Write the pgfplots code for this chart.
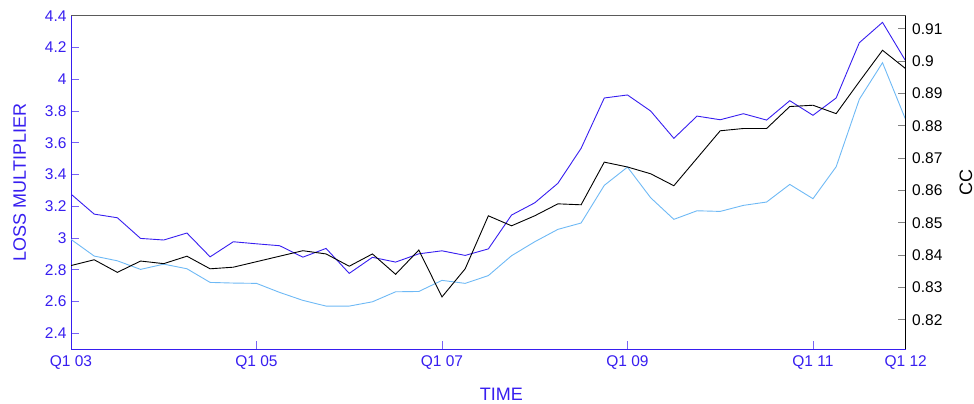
\documentclass[border=0pt]{standalone}
\usepackage{pgfplots}
\pgfplotsset{compat=1.18}
\usepackage{fontspec}
\setmainfont{Liberation Sans}

\definecolor{lossblue}{RGB}{55,30,240}
\definecolor{lossblueTick}{RGB}{120,100,245}
\definecolor{ccsky}{RGB}{110,185,245}
\definecolor{frametop}{RGB}{90,90,90}

% quarterly index: 0 = Q1 2003 ... 36 = Q1 2012
\pgfplotstableread{
q  loss   lossalt
0  3.277  2.992
1  3.151  2.887
2  3.128  2.857
3  2.998  2.803
4  2.988  2.836
5  3.032  2.807
6  2.882  2.721
7  2.977  2.717
8  2.964  2.715
9  2.952  2.658
10 2.880  2.608
11 2.935  2.572
12 2.778  2.572
13 2.879  2.599
14 2.849  2.662
15 2.901  2.664
16 2.920  2.734
17 2.891  2.715
18 2.932  2.764
19 3.145  2.889
20 3.222  2.977
21 3.345  3.055
22 3.565  3.095
23 3.882  3.332
24 3.901  3.447
25 3.800  3.254
26 3.628  3.118
27 3.768  3.172
28 3.745  3.168
29 3.783  3.206
30 3.743  3.227
31 3.865  3.338
32 3.773  3.248
33 3.882  3.449
34 4.230  3.874
35 4.358  4.104
36 4.115  3.745
}\losstable

\pgfplotstableread{
q  cc
0  0.8368
1  0.8386
2  0.8347
3  0.8382
4  0.8374
5  0.8397
6  0.8358
7  0.8363
8  0.8380
9  0.8397
10 0.8414
11 0.8404
12 0.8366
13 0.8404
14 0.8341
15 0.8416
16 0.8271
17 0.8358
18 0.8522
19 0.8491
20 0.8522
21 0.8559
22 0.8556
23 0.8688
24 0.8673
25 0.8652
26 0.8615
27 0.8700
28 0.8785
29 0.8792
30 0.8792
31 0.8860
32 0.8864
33 0.8838
34 0.8937
35 0.9034
36 0.8977
}\cctable

\begin{document}
\begin{tikzpicture}[x=1pt,y=1pt]
\useasboundingbox (0,0) rectangle (974,404);
\pgfplotsset{
  common/.style={
    at={(71pt,54.7pt)}, anchor=south west, scale only axis,
    width=834.7pt, height=333.6pt,
    xmin=0, xmax=36,
    /pgf/number format/assume math mode=true,
    tick align=inside, major tick length=8pt,
    axis line style={-, line width=0.9pt},
    every tick/.style={line width=0.9pt},
    tick label style={font=\fontsize{15.5}{18}\selectfont},
    label style={font=\fontsize{18}{21}\selectfont},
    every axis plot/.append style={line width=0.9pt},
  }
}
\begin{axis}[common,
  axis x line*=bottom, axis y line*=left,
  ymin=2.3, ymax=4.4,
  ytick={2.4,2.6,2.8,3,3.2,3.4,3.6,3.8,4,4.2,4.4},
  xtick={0,8,16,24,32,36},
  xticklabels={Q1 03,Q1 05,Q1 07,Q1 09,Q1 11,Q1 12},
  x axis line style={lossblue}, y axis line style={lossblue},
  every tick/.append style={lossblueTick},
  tick label style={text=lossblue},
  xticklabel style={yshift=-3pt},
  yticklabel style={xshift=-1pt},
  ylabel={LOSS MULTIPLIER}, xlabel={TIME},
  label style={text=lossblue},
  ylabel style={at={(axis description cs:-0.0615,0.5)}, anchor=center},
  xlabel style={at={(axis description cs:0.5155,-0.134)}, anchor=center},
]
\addplot[lossblue, no markers] table[x=q, y=loss] {\losstable};
\addplot[ccsky, no markers] table[x=q, y=lossalt] {\losstable};
\end{axis}

\begin{axis}[common,
  axis x line*=top, axis y line*=right,
  ymin=0.8109, ymax=0.9141,
  xtick=\empty,
  ytick={0.82,0.83,0.84,0.85,0.86,0.87,0.88,0.89,0.9,0.91},
  x axis line style={frametop}, y axis line style={black},
  every tick/.append style={gray},
  tick label style={text=black},
  yticklabel style={xshift=3pt},
  ylabel={CC},
  ylabel style={at={(axis description cs:1.0722,0.5)}, anchor=center, text=black},
]
\addplot[black, no markers] table[x=q, y=cc] {\cctable};
\end{axis}
\end{tikzpicture}
\end{document}
